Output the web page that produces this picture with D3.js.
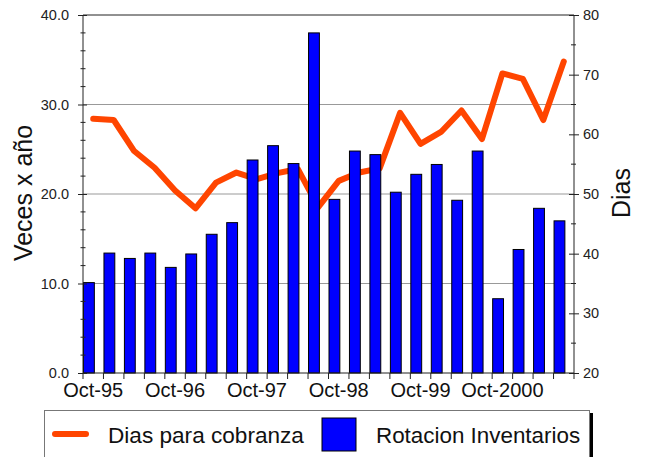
<!DOCTYPE html>
<html><head><meta charset="utf-8">
<script src="https://cdn.jsdelivr.net/npm/d3@7"></script>
<style>body{margin:0;background:#fff}svg{display:block;font-family:"Liberation Sans",Arial,sans-serif}</style>
</head><body><svg id="c" width="646" height="457"></svg>
<script>
const categories = ["Oct-95","Jan-96","Apr-96","Jul-96","Oct-96","Jan-97","Apr-97","Jul-97","Oct-97","Jan-98","Apr-98","Jul-98","Oct-98","Jan-99","Apr-99","Jul-99","Oct-99","Jan-00","Apr-00","Jul-00","Oct-2000","Jan-01","Apr-01","Jul-01"];
const rotacionInventarios = [10.1,13.4,12.8,13.4,11.8,13.3,15.5,16.8,23.8,25.4,23.4,38.0,19.4,24.8,24.4,20.2,22.2,23.3,19.3,24.8,8.3,13.8,18.4,17.0];
const diasCobranza = [62.6,62.4,57.2,54.4,50.6,47.6,51.9,53.6,52.5,53.5,54.2,47.8,52.2,53.6,54.3,63.6,58.4,60.4,64.0,59.2,70.2,69.3,62.4,72.2];
const xTickLabels = ["Oct-95","Oct-96","Oct-97","Oct-98","Oct-99","Oct-2000"];
const leftTicks = [0,10,20,30,40];
const leftMinor = [2,4,6,8,12,14,16,18,22,24,26,28,32,34,36,38];
const rightTicks = [20,30,40,50,60,70,80];
const rightMinor = [25,35,45,55,65,75];
const gridValues = [10,20,30];
const seriesNames = ["Dias para cobranza","Rotacion Inventarios"];

const svg = d3.select("#c");
const L = 83, R = 574, T = 15, B = 373;
const x = d3.scaleBand().domain(categories).range([L, R]).padding(0);
const yL = d3.scaleLinear().domain([0, 40]).range([B, T]);
const yR = d3.scaleLinear().domain([20, 80]).range([B, T]);
const bw = x.bandwidth();

// gridlines
svg.append("g").selectAll("line").data(gridValues).join("line")
  .attr("x1", L).attr("x2", R).attr("y1", d => yL(d)).attr("y2", d => yL(d))
  .attr("stroke", "#999").attr("stroke-width", 1);
// top border
svg.append("line").attr("x1", L).attr("x2", R).attr("y1", yL(40)).attr("y2", yL(40))
  .attr("stroke", "#222").attr("stroke-width", 1);

// line (behind bars)
const lineGen = d3.line().x((d, i) => x(categories[i]) + bw / 2).y(d => yR(d)).curve(d3.curveLinear);
svg.append("path").datum(diasCobranza).attr("d", lineGen)
  .attr("fill", "none").attr("stroke", "#FF4500").attr("stroke-width", 6)
  .attr("stroke-linejoin", "round").attr("stroke-linecap", "round");

// bars
svg.append("g").selectAll("rect").data(rotacionInventarios).join("rect")
  .attr("x", (d, i) => x(categories[i]) + 0.5)
  .attr("width", bw * 0.53)
  .attr("y", d => yL(d))
  .attr("height", d => yL(0) - yL(d))
  .attr("fill", "#0000FF").attr("stroke", "#000").attr("stroke-width", 1);

// left axis
const gl = svg.append("g").attr("transform", `translate(${L},0)`);
gl.call(d3.axisLeft(yL).tickValues(leftTicks).tickFormat(d3.format(".1f")).tickSize(5).tickPadding(9))
  .call(g => g.select(".domain").remove());
gl.selectAll(".tick line").attr("x2", 4).attr("x1", -5).attr("stroke", "#222");
gl.selectAll(".tick text").attr("font-size", 14.5).attr("fill", "#222").attr("font-family", "Liberation Sans, Arial, sans-serif");
gl.append("line").attr("y1", T).attr("y2", B).attr("stroke", "#222");
gl.selectAll(".minor").data(leftMinor).join("line").attr("class", "minor")
  .attr("x1", -2.5).attr("x2", 2.5).attr("y1", d => yL(d)).attr("y2", d => yL(d)).attr("stroke", "#222");

// right axis
const gr = svg.append("g").attr("transform", `translate(${R},0)`);
gr.call(d3.axisRight(yR).tickValues(rightTicks).tickFormat(d3.format("d")).tickSize(5).tickPadding(4))
  .call(g => g.select(".domain").remove());
gr.selectAll(".tick line").attr("x1", -5).attr("x2", 5).attr("stroke", "#222");
gr.selectAll(".tick text").attr("font-size", 14.5).attr("fill", "#222").attr("font-family", "Liberation Sans, Arial, sans-serif");
gr.append("line").attr("y1", T).attr("y2", B).attr("stroke", "#222");
gr.selectAll(".minor").data(rightMinor).join("line").attr("class", "minor")
  .attr("x1", -3).attr("x2", 2).attr("y1", d => yR(d)).attr("y2", d => yR(d)).attr("stroke", "#222");

// bottom axis
const gb = svg.append("g");
gb.append("line").attr("x1", L).attr("x2", R).attr("y1", B).attr("y2", B).attr("stroke", "#222");
const boundaries = categories.map(c => x(c)).concat([R]);
gb.selectAll(".bt").data(boundaries).join("line").attr("class", "bt")
  .attr("x1", d => d).attr("x2", d => d).attr("y1", B).attr("y2", B + 6).attr("stroke", "#222");
gb.selectAll(".bl").data(xTickLabels).join("text").attr("class", "bl")
  .attr("x", d => x(d) + bw / 2).attr("y", 397)
  .attr("text-anchor", "middle").attr("font-size", 20).attr("fill", "#111").text(d => d);

// axis titles
svg.append("text").attr("transform", `translate(32,193) rotate(-90)`)
  .attr("text-anchor", "middle").attr("font-size", 25).attr("fill", "#111").text("Veces x año");
svg.append("text").attr("transform", `translate(630,193) rotate(-90)`)
  .attr("text-anchor", "middle").attr("font-size", 25).attr("fill", "#111").text("Dias");

// legend
const lg = svg.append("g");
lg.append("rect").attr("x", 590).attr("y", 413).attr("width", 3).attr("height", 50).attr("fill", "#000");
lg.append("rect").attr("x", 44.5).attr("y", 410.5).attr("width", 545).attr("height", 60)
  .attr("fill", "#fff").attr("stroke", "#777").attr("stroke-width", 1);
lg.append("line").attr("x1", 55).attr("x2", 86).attr("y1", 434).attr("y2", 434)
  .attr("stroke", "#FF4500").attr("stroke-width", 6).attr("stroke-linecap", "round");
lg.append("text").attr("x", 108).attr("y", 443).attr("font-size", 22.6).attr("fill", "#111").text(seriesNames[0]);
lg.append("rect").attr("x", 322).attr("y", 418).attr("width", 34).attr("height", 33)
  .attr("fill", "#0000FF").attr("stroke", "#000");
lg.append("text").attr("x", 376).attr("y", 443).attr("font-size", 22.4).attr("fill", "#111").text(seriesNames[1]);
</script></body></html>
